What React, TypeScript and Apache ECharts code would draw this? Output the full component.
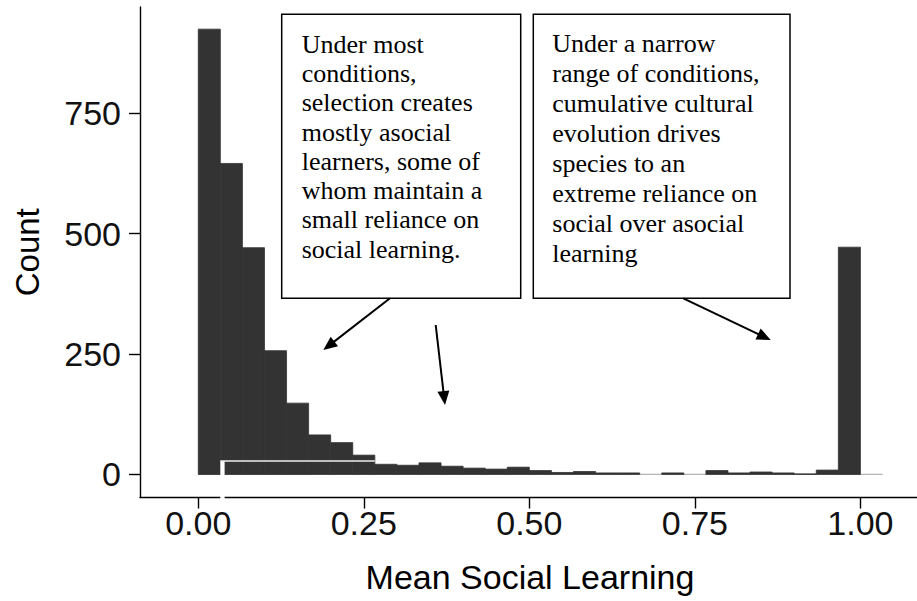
import React, { useEffect, useRef } from "react";
import * as echarts from "echarts";

// ---- data ----
const BIN_WIDTH = 1 / 30;
const binCounts = [
  925, 646, 471, 257, 148, 82, 66, 40, 21, 19, 24, 17, 13, 11, 15, 8, 4, 6, 3, 3,
  0, 3, 0, 8, 3, 5, 3, 1, 9, 472, 0,
];
const xTickValues = [0, 0.25, 0.5, 0.75, 1.0];
const yTickValues = [0, 250, 500, 750];
const xTitle = "Mean Social Learning";
const yTitle = "Count";
const note1 = [
  "Under most",
  "conditions,",
  "selection creates",
  "mostly asocial",
  "learners, some of",
  "whom maintain a",
  "small reliance on",
  "social learning.",
];
const note2 = [
  "Under a narrow",
  "range of conditions,",
  "cumulative cultural",
  "evolution drives",
  "species to an",
  "extreme reliance on",
  "social over asocial",
  "learning",
];
// white seam artefacts visible in the reference (data coordinates)
const gapBand = [[0.0333, 0.0398, -56, 27.6]];
const seamLine = [[0.0333, 0.2667, 27.6]];

const histData = binCounts.map((c, i) => [i * BIN_WIDTH, (i + 1) * BIN_WIDTH, c]);
const baseline = [
  [0, 0],
  [binCounts.length * BIN_WIDTH, 0],
];

function arrow(x1: number, y1: number, x2: number, y2: number) {
  const dx = x2 - x1;
  const dy = y2 - y1;
  const len = Math.sqrt(dx * dx + dy * dy);
  const ux = dx / len;
  const uy = dy / len;
  const hl = 14;
  const hw = 6;
  const bx = x2 - ux * hl;
  const by = y2 - uy * hl;
  return [
    {
      type: "line",
      shape: { x1, y1, x2: bx + ux * 2, y2: by + uy * 2 },
      style: { stroke: "#000", lineWidth: 2 },
    },
    {
      type: "polygon",
      shape: {
        points: [
          [x2, y2],
          [bx - uy * hw, by + ux * hw],
          [bx + uy * hw, by - ux * hw],
        ],
      },
      style: { fill: "#000" },
    },
  ];
}

const serif = "'Liberation Serif', 'Times New Roman', serif";
const sans = "'Liberation Sans', Arial, sans-serif";

export default function App() {
  const ref = useRef<HTMLDivElement>(null);
  useEffect(() => {
    if (!ref.current) return;
    const chart = echarts.init(ref.current, undefined, { renderer: "svg" });
    const axisLine = { show: true, onZero: false, lineStyle: { color: "#000", width: 1.4 } };
    const option: any = {
      animation: false,
      backgroundColor: "#fff",
      grid: {
        left: 140,
        top: 7,
        width: 780,
        height: 490.5,
        containLabel: false,
        outerBoundsMode: "none",
      },
      xAxis: {
        type: "value",
        min: -0.088,
        max: 1.09,
        name: xTitle,
        nameLocation: "middle",
        nameGap: 62,
        nameTextStyle: { fontFamily: sans, fontSize: 34, color: "#000" },
        axisLine,
        axisTick: {
          show: true,
          length: 11,
          lineStyle: { color: "#000", width: 1.4 },
          customValues: xTickValues,
        },
        axisLabel: {
          customValues: xTickValues,
          formatter: (v: number) => v.toFixed(2),
          fontFamily: sans,
          fontSize: 34,
          color: "#111",
          margin: 8,
        },
        splitLine: { show: false },
      },
      yAxis: {
        type: "value",
        min: -48,
        max: 971,
        name: yTitle,
        nameLocation: "middle",
        nameGap: 96,
        nameRotate: 90,
        nameTextStyle: { fontFamily: sans, fontSize: 33, color: "#000" },
        axisLine,
        axisTick: {
          show: true,
          length: 11,
          lineStyle: { color: "#000", width: 1.4 },
          customValues: yTickValues,
        },
        axisLabel: {
          customValues: yTickValues,
          fontFamily: sans,
          fontSize: 34,
          color: "#111",
          margin: 19,
        },
        splitLine: { show: false },
      },
      series: [
        {
          type: "line",
          data: baseline,
          symbol: "none",
          z: 1,
          lineStyle: { color: "#b5b5b5", width: 1.2 },
          silent: true,
        },
        {
          type: "custom",
          z: 2,
          data: histData,
          encode: { x: [0, 1], y: 2 },
          renderItem: (params: any, api: any) => {
            const c = api.value(2);
            if (!c) return null;
            const p0 = api.coord([api.value(0), c]);
            const p1 = api.coord([api.value(1), 0]);
            return {
              type: "rect",
              shape: { x: p0[0], y: p0[1], width: p1[0] - p0[0], height: p1[1] - p0[1] },
              style: { fill: "#333333", stroke: "#333333", lineWidth: 0.8 },
            };
          },
        },
        {
          type: "custom",
          z: 6,
          data: gapBand,
          encode: { x: [0, 1], y: [2, 3] },
          renderItem: (params: any, api: any) => {
            const p0 = api.coord([api.value(0), api.value(3)]);
            const p1 = api.coord([api.value(1), api.value(2)]);
            return {
              type: "rect",
              shape: { x: p0[0], y: p0[1], width: p1[0] - p0[0], height: p1[1] - p0[1] },
              style: { fill: "#fff" },
            };
          },
        },
        {
          type: "custom",
          z: 6,
          data: seamLine,
          encode: { x: [0, 1], y: 2 },
          renderItem: (params: any, api: any) => {
            const p0 = api.coord([api.value(0), api.value(2)]);
            const p1 = api.coord([api.value(1), api.value(2)]);
            return {
              type: "line",
              shape: { x1: p0[0], y1: p0[1], x2: p1[0], y2: p1[1] },
              style: { stroke: "#eeeeee", lineWidth: 1.5 },
            };
          },
        },
      ],
      graphic: [
        {
          type: "rect",
          shape: { x: 281.7, y: 14.3, width: 239, height: 284 },
          style: { fill: "#fff", stroke: "#000", lineWidth: 1.5 },
        },
        {
          type: "rect",
          shape: { x: 533.3, y: 14.3, width: 256.7, height: 284 },
          style: { fill: "#fff", stroke: "#000", lineWidth: 1.5 },
        },
        {
          type: "text",
          x: 301.7,
          y: 29.5,
          style: {
            text: note1.join("\n"),
            fontFamily: serif,
            fontSize: 26,
            lineHeight: 29.3,
            fill: "#000",
            verticalAlign: "top",
          },
        },
        {
          type: "text",
          x: 552.3,
          y: 28,
          style: {
            text: note2.join("\n"),
            fontFamily: serif,
            fontSize: 26,
            lineHeight: 30,
            fill: "#000",
            verticalAlign: "top",
          },
        },
        ...arrow(390, 298.3, 323.3, 350),
        ...arrow(435.7, 325, 445, 405),
        ...arrow(683.3, 298.3, 770.7, 340),
      ],
    };
    chart.setOption(option);
    return () => chart.dispose();
  }, []);
  return (
    <div
      ref={ref}
      style={{ position: "fixed", left: 0, top: 0, width: 917, height: 601, background: "#fff" }}
    />
  );
}
